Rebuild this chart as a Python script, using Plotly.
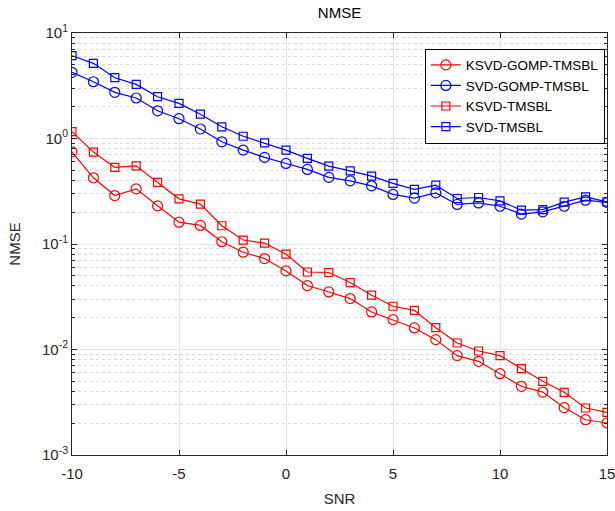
import plotly.graph_objects as go

# SNR sweep (dB)
snr = list(range(-10, 16))

ksvd_gomp_tmsbl = [0.748, 0.424, 0.288, 0.333, 0.230, 0.161, 0.150, 0.105, 0.0836, 0.0728,
                   0.0556, 0.0404, 0.0351, 0.0304, 0.0227, 0.0192, 0.0160, 0.0124, 0.00875, 0.00773,
                   0.00590, 0.00448, 0.00395, 0.00281, 0.00216, 0.00201]
svd_gomp_tmsbl = [4.24, 3.45, 2.74, 2.42, 1.83, 1.54, 1.23, 0.93, 0.776, 0.662,
                  0.580, 0.509, 0.428, 0.397, 0.356, 0.295, 0.272, 0.305, 0.237, 0.245,
                  0.228, 0.192, 0.202, 0.228, 0.260, 0.248]
ksvd_tmsbl = [1.16, 0.743, 0.532, 0.551, 0.383, 0.268, 0.239, 0.149, 0.109, 0.102,
              0.080, 0.0543, 0.0537, 0.0431, 0.0327, 0.0257, 0.0235, 0.0161, 0.01153, 0.00968,
              0.00875, 0.00659, 0.00499, 0.00393, 0.00279, 0.00254]
svd_tmsbl = [6.09, 5.16, 3.77, 3.26, 2.49, 2.15, 1.70, 1.29, 1.05, 0.91,
             0.776, 0.648, 0.547, 0.494, 0.440, 0.375, 0.329, 0.361, 0.270, 0.276,
             0.256, 0.209, 0.212, 0.249, 0.280, 0.251]

series = [
    ("KSVD-GOMP-TMSBL", ksvd_gomp_tmsbl, "#ff0000", "circle-open", 10),
    ("SVD-GOMP-TMSBL", svd_gomp_tmsbl, "#0000ff", "circle-open", 10),
    ("KSVD-TMSBL", ksvd_tmsbl, "#ff0000", "square-open", 8),
    ("SVD-TMSBL", svd_tmsbl, "#0000ff", "square-open", 8),
]

x_ticks = [-10, -5, 0, 5, 10, 15]
x_labels = ["-10", "-5", "0", "5", "10", "15"]
y_decades = [1e-3, 1e-2, 1e-1, 1e0, 1e1]
y_labels = ["10<sup>-3</sup>", "10<sup>-2</sup>", "10<sup>-1</sup>", "10<sup>0</sup>", "10<sup>1</sup>"]
minor_vals = [m * 10 ** e for e in range(-3, 1) for m in range(2, 10)]

FONT = "Liberation Sans, Arial, sans-serif"

fig = go.Figure()
for name, vals, color, symbol, size in series:
    fig.add_trace(go.Scatter(
        x=snr, y=vals, name=name, mode="lines+markers",
        line=dict(color=color, width=1.2),
        marker=dict(symbol=symbol, size=size, color=color, line=dict(width=1.2, color=color)),
    ))

fig.update_layout(
    width=615, height=511,
    margin=dict(l=72, r=8, t=33, b=56),
    paper_bgcolor="white", plot_bgcolor="white",
    font=dict(family=FONT, size=15, color="#262626"),
    title=dict(text="NMSE", x=0.5, xref="paper", xanchor="center",
               y=1 - 13 / 511, yref="container", yanchor="middle",
               font=dict(size=15, color="#000000")),
    showlegend=True,
    legend=dict(x=0.996, y=0.963, xanchor="right", yanchor="top",
                bgcolor="white", bordercolor="#000000", borderwidth=1,
                font=dict(size=13.5, color="#000000"), tracegroupgap=0,
                itemwidth=30, entrywidth=148, entrywidthmode="pixels"),
)

fig.update_xaxes(
    range=[-10, 15], tickvals=x_ticks, ticktext=x_labels, automargin=False,
    ticklabeloverflow="allow",
    showline=True, linecolor="#262626", linewidth=1, mirror="ticks",
    ticks="inside", ticklen=5, tickcolor="#262626", ticklabelstandoff=5,
    showgrid=True, gridcolor="#e3e3e3", gridwidth=1, zeroline=False,
    title=dict(text="SNR", standoff=12, font=dict(size=15, color="#262626")),
)
fig.update_yaxes(
    type="log", range=[-3, 1], tickvals=y_decades, ticktext=y_labels, automargin=False,
    showline=True, linecolor="#262626", linewidth=1, mirror="ticks",
    ticks="inside", ticklen=5, tickcolor="#262626",
    showgrid=True, gridcolor="#e3e3e3", gridwidth=1, zeroline=False,
    minor=dict(tickvals=minor_vals, ticks="inside", ticklen=3, tickcolor="#262626",
               showgrid=True, gridcolor="#d9d9d9", griddash="dot", gridwidth=1),
    title=dict(text="NMSE", standoff=17, font=dict(size=15, color="#262626")),
)

fig.write_html("out.html")
